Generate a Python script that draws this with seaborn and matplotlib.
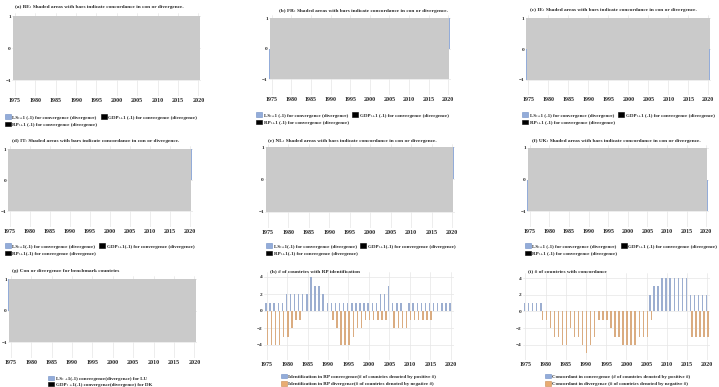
import numpy as np
import pandas as pd
import matplotlib.pyplot as plt
from matplotlib.patches import Patch
import seaborn as sns

years = list(range(1975, 2021))

# (a)-(g): every year lies in a shaded (concordant) block; LS bars only show at both ends
shaded = [1] * len(years)
ls_ends = {'a': (-1, -1), 'b': (-1, 1), 'c': (-1, -1), 'd': (1, 1),
           'e': (0, 1), 'f': (-1, -1), 'g': (1, -1)}

# (h) RP identification
rp_conv = [1, 1, 1, 1, 1, 2, 2, 2, 2, 2, 2, 4, 3, 3, 2, 1, 1, 1, 1, 1, 1, 1, 1, 1, 1,
           1, 1, 1, 2, 2, 3, 1, 1, 1, 0, 1, 1, 1, 1, 1, 1, 1, 1, 1, 1, 1]
rp_div = [-4, -4, -4, -4, -3, -3, -2, -1, -1, 0, 0, 0, 0, 0, 0, 0, -1, -2, -4, -4, -4, -3, -2, -2, -1,
          -1, -1, -1, -1, -1, 0, -2, -2, -2, -2, -1, -1, -1, -1, -1, -1, 0, 0, 0, 0, 0]

# (i) concordance
conc_conv = [1, 1, 1, 1, 1, 0, 0, 0, 0, 0, 0, 0, 0, 0, 0, 0, 0, 0, 0, 0, 0, 0, 0, 0, 0,
             0, 0, 0, 0, 0, 0, 2, 3, 3, 4, 4, 4, 4, 4, 4, 4, 2, 2, 2, 2, 2]
conc_div = [0, 0, 0, 0, -1, -1, -2, -3, -3, -4, -4, -2, -3, -3, -4, -5, -4, -3, -1, -1, -1, -2, -3, -3, -4,
            -4, -4, -4, -3, -3, -3, -1, 0, 0, 0, 0, 0, 0, 0, 0, 0, -3, -3, -3, -3, -3]

year_ticks = list(range(1975, 2021, 5))

BLUE = '#93ACD9'
BLUE_EDGE = '#6E8CC4'
ORANGE = '#E9AC72'
GRAY = '#CACACA'

sns.set_style('whitegrid', {'grid.color': '#E6E6E6', 'axes.edgecolor': 'white'})
plt.rcParams['font.family'] = ['Liberation Serif', 'DejaVu Serif']
plt.rcParams['font.weight'] = 'bold'

W, H = 719, 387
fig = plt.figure(figsize=(W / 100, H / 100), dpi=100)
FS_TITLE = 3.8
FS_LEG = 3.6


def px_axes(l, t, r, b):
    return fig.add_axes([l / W, 1 - b / H, (r - l) / W, (b - t) / H])


def fig_text(x, y, s):
    fig.text(x / W, 1 - y / H, s, fontsize=FS_TITLE, fontweight='bold', va='center', ha='left')


def fig_legend(x, y, handles, ncol, spacing=0.4, colsp=0.6):
    fig.legend(handles=handles, loc='upper left', bbox_to_anchor=(x / W, 1 - (y - 3) / H),
               ncol=ncol, frameon=False, borderpad=0, handlelength=1.2,
               handleheight=1.1, handletextpad=0.4, columnspacing=colsp, labelspacing=spacing,
               prop={'weight': 'bold', 'size': FS_LEG})


def style_axes(ax, ylim, yticks):
    ax.set_xlim(1974.3, 2020.7)
    ax.set_ylim(*ylim)
    ax.set_xticks(year_ticks)
    ax.set_yticks(yticks)
    ax.tick_params(axis='x', length=0, pad=1.5, labelsize=4.3)
    ax.tick_params(axis='y', length=0, pad=0.8, labelsize=3.8)
    for lab in ax.get_xticklabels() + ax.get_yticklabels():
        lab.set_fontweight('bold')
    ax.set_xlabel('')
    ax.set_ylabel('')
    for s in ax.spines.values():
        s.set_visible(False)
    ax.set_axisbelow(True)
    ax.grid(True, linewidth=0.5)


def shaded_panel(key, rect, title, title_xy, legend_xy, labels, ncol, spacing=0.4):
    ax = px_axes(*rect)
    yrs = np.array(years)
    edges = np.append(yrs - 0.5, yrs[-1] + 0.3)
    top = np.append(shaded, shaded[-1]).astype(float)
    ax.fill_between(edges, -top, top, step='post', color=GRAY, linewidth=0, zorder=2)
    first, last = ls_ends[key]
    ax.bar([years[0] - 0.52, years[-1] + 0.37], [first, last], width=0.15,
           color=BLUE, linewidth=0, zorder=3)
    style_axes(ax, (-1.5, 1.1), [-1, 0, 1])
    fig_text(title_xy[0], title_xy[1], title)
    cols = [BLUE, '#000000', '#000000']
    handles = [Patch(facecolor=c, edgecolor=BLUE_EDGE if c == BLUE else 'black', linewidth=0.4, label=l)
               for c, l in zip(cols, labels)]
    if ncol == 2:
        handles = [handles[0], handles[2], handles[1]]
    fig_legend(legend_xy[0], legend_xy[1], handles, ncol, spacing=spacing)
    return ax


lab_sp = ['LS:+1 (-1) for convergence (divergence)', 'GDP:+1 (-1) for convergence (divergence)',
          'RP:+1 (-1) for convergence (divergence)']
lab_ns = ['LS:+1(-1) for convergence (divergence)', 'GDP:+1(-1) for convergence (divergence)',
          'RP:+1(-1) for convergence (divergence)']
tail = ': Shaded areas with bars indicate concordance in con or divergence.'

shaded_panel('a', (12.1, 12.8, 201.2, 96), '(a) BE' + tail, (15, 7), (2, 115), lab_sp, 2)
shaded_panel('b', (268.9, 15.3, 451, 94.6), '(b) FR' + tail, (279, 11), (253, 113), lab_sp, 2)
shaded_panel('c', (525.5, 15.2, 711.1, 95.4), '(c) IE' + tail, (530, 10), (519, 113), lab_sp, 2)
shaded_panel('d', (7.2, 145.9, 192.8, 226.5), '(d) IT' + tail, (12, 141), (2, 244), lab_ns, 2)
shaded_panel('e', (265, 143.8, 455, 228), '(e) NL' + tail, (268, 141), (263, 244), lab_ns, 2)
shaded_panel('f', (527, 144.8, 709, 227), '(f) UK' + tail, (532, 141), (522, 244), lab_sp, 2)
shaded_panel('g', (8, 275.9, 197.2, 357.8), '(g) Con or divergence for benchmark countries', (12, 271),
             (45, 376), ['LS: +1(-1) convergence(divergence) for LU',
                         'GDP: +1(-1) convergence(divergence) for DK'], 1, spacing=0.2)


def count_panel(rect, pos, neg, title, title_xy, legend_xy, labels):
    ax = px_axes(*rect)
    df = pd.DataFrame({'year': years * 2, 'value': pos + neg,
                       'series': ['pos'] * len(years) + ['neg'] * len(years)})
    sns.barplot(data=df, x='year', y='value', hue='series', native_scale=True, dodge=True,
                width=0.7, palette={'pos': BLUE, 'neg': ORANGE}, errorbar=None,
                linewidth=0, edgecolor='none', legend=False, ax=ax, zorder=3)
    style_axes(ax, (-5.8, 4.6), [-4, -2, 0, 2, 4])
    fig_text(title_xy[0], title_xy[1], title)
    handles = [Patch(facecolor=BLUE, edgecolor=BLUE_EDGE, linewidth=0.4, label=labels[0]),
               Patch(facecolor=ORANGE, edgecolor='#C98A50', linewidth=0.4, label=labels[1])]
    fig_legend(legend_xy[0], legend_xy[1], handles, 1, spacing=0.5)
    return ax


count_panel((263.8, 271.9, 453.6, 360.3), rp_conv, rp_div, '(h) # of countries with RP identification',
            (270, 271), (278, 374),
            ['Identification in RP convergence(# of countries denoted by positive #)',
             'Identification in RP divergence(# of countries denoted by negative #)'])
count_panel((522.5, 273, 710.1, 360), conc_conv, conc_div, '(i) # of countries with concordance',
            (528, 271), (542, 374),
            ['Concordant in convergence (# of countries denoted by positive #)',
             'Concordant in divergence (# of countries denoted by negative #)'])

fig.savefig('out.png', dpi=100)
